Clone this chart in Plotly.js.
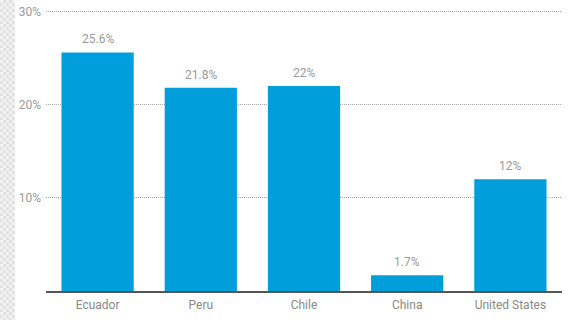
<!DOCTYPE html>
<html>
<head>
<meta charset="utf-8">
<script src="https://cdn.plot.ly/plotly-3.0.1.min.js"></script>
<style>
html,body{margin:0;padding:0;background:#fff;}
#strip{position:absolute;left:0;top:0;width:15px;height:320px;
background-color:#f2f2f2;
background-image:linear-gradient(45deg,#e2e2e2 25%,transparent 25%,transparent 75%,#e2e2e2 75%),linear-gradient(45deg,#e2e2e2 25%,transparent 25%,transparent 75%,#e2e2e2 75%);
background-size:6px 6px;background-position:0 0,3px 3px;}
#chart{position:absolute;left:0;top:0;width:573px;height:320px;}
</style>
</head>
<body>
<div id="strip"></div>
<div id="chart"></div>
<script>
const categories = ["Ecuador", "Peru", "Chile", "China", "United States"];
const values = [25.6, 21.8, 22, 1.7, 12];
const valueLabels = ["25.6%", "21.8%", "22%", "1.7%", "12%"];
const yTicks = [10, 20, 30];
const yTickLabels = ["10%", "20%", "30%"];

const trace = {
  type: "bar",
  x: categories,
  y: values,
  hoverinfo: "none",
  marker: {color: "#009fdb"}
};

const annotations = categories.map((c, i) => ({
  x: c,
  y: values[i],
  xref: "x",
  yref: "y",
  text: valueLabels[i],
  showarrow: false,
  yanchor: "bottom",
  yshift: 4,
  font: {family: "Roboto, sans-serif", size: 12, color: "#999"}
}));

const layout = {
  width: 573,
  height: 320,
  margin: {l: 46, r: 11, t: 10, b: 29, pad: 0},
  paper_bgcolor: "rgba(0,0,0,0)",
  plot_bgcolor: "rgba(0,0,0,0)",
  bargap: 0.3,
  showlegend: false,
  annotations: annotations,
  font: {family: "Roboto, sans-serif", size: 12, color: "#888"},
  xaxis: {
    showgrid: false,
    showline: true,
    linecolor: "#555",
    linewidth: 1.5,
    ticks: "",
    ticklabelstandoff: 2,
    tickfont: {family: "Roboto, sans-serif", size: 12, color: "#888"},
    fixedrange: true
  },
  yaxis: {
    range: [0, 30.15],
    tickvals: yTicks,
    ticktext: yTickLabels,
    showgrid: true,
    gridcolor: "#aaa",
    griddash: "1px,1px",
    gridwidth: 1,
    zeroline: false,
    showline: false,
    ticks: "",
    ticklabelstandoff: 4,
    tickfont: {family: "Roboto, sans-serif", size: 12, color: "#999"},
    fixedrange: true
  }
};

Plotly.newPlot("chart", [trace], layout, {displayModeBar: false, staticPlot: true});
</script>
</body>
</html>
